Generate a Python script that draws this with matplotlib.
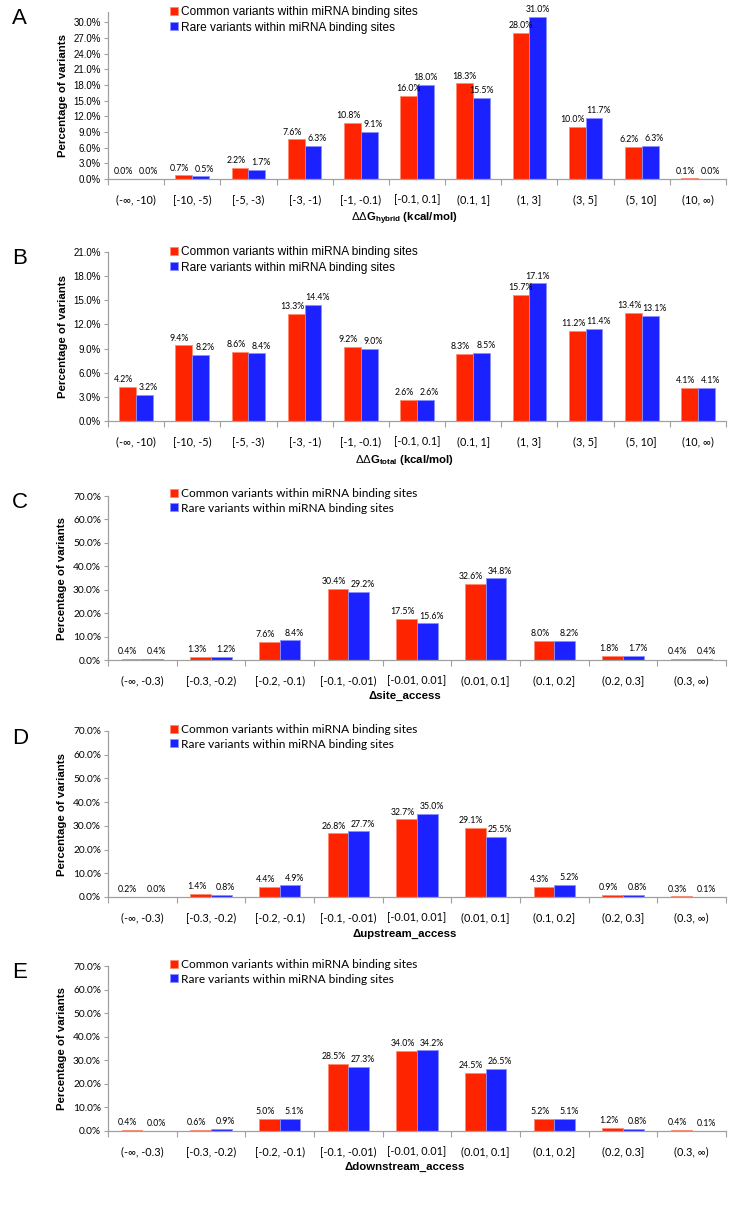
import numpy as np
import matplotlib
matplotlib.use("Agg")
import matplotlib.pyplot as plt

plt.rcParams['font.family'] = ['Liberation Sans', 'DejaVu Sans']
plt.rcParams['mathtext.fontset'] = 'custom'
plt.rcParams['mathtext.rm'] = 'Liberation Sans'
plt.rcParams['mathtext.bf'] = 'Liberation Sans:bold'

# 데이터
dg_bins = ['(-∞, -10)', '[-10, -5)', '[-5, -3)', '[-3, -1)', '[-1, -0.1)', '[-0.1, 0.1]',
           '(0.1, 1]', '(1, 3]', '(3, 5]', '(5, 10]', '(10, ∞)']
acc_bins = ['(-∞, -0.3)', '[-0.3, -0.2)', '[-0.2, -0.1)', '[-0.1, -0.01)', '[-0.01, 0.01]',
            '(0.01, 0.1]', '(0.1, 0.2]', '(0.2, 0.3]', '(0.3, ∞)']

hybrid_common = [0.0, 0.7, 2.2, 7.6, 10.8, 16.0, 18.3, 28.0, 10.0, 6.2, 0.1]
hybrid_rare = [0.0, 0.5, 1.7, 6.3, 9.1, 18.0, 15.5, 31.0, 11.7, 6.3, 0.0]
total_common = [4.2, 9.4, 8.6, 13.3, 9.2, 2.6, 8.3, 15.7, 11.2, 13.4, 4.1]
total_rare = [3.2, 8.2, 8.4, 14.4, 9.0, 2.6, 8.5, 17.1, 11.4, 13.1, 4.1]
site_common = [0.4, 1.3, 7.6, 30.4, 17.5, 32.6, 8.0, 1.8, 0.4]
site_rare = [0.4, 1.2, 8.4, 29.2, 15.6, 34.8, 8.2, 1.7, 0.4]
up_common = [0.2, 1.4, 4.4, 26.8, 32.7, 29.1, 4.3, 0.9, 0.3]
up_rare = [0.0, 0.8, 4.9, 27.7, 35.0, 25.5, 5.2, 0.8, 0.1]
down_common = [0.4, 0.6, 5.0, 28.5, 34.0, 24.5, 5.2, 1.2, 0.4]
down_rare = [0.0, 0.9, 5.1, 27.3, 34.2, 26.5, 5.1, 0.8, 0.1]

RED = '#FF2400'
BLUE = '#1C22FF'
W, H = 746, 1207
CAL = ['Lato', 'DejaVu Sans']

panels = [
    # letter, bins, common, rare, ymax, ystep, xlabel, axes top/bottom px, legend row px, calibri-ish legend
    ('A', dg_bins, hybrid_common, hybrid_rare, 32, 3, r'$\Delta\Delta\mathbf{G}_{\mathbf{hybrid}}$ (kcal/mol)', 12, 179, 10, False),
    ('B', dg_bins, total_common, total_rare, 21, 3, r'$\Delta\Delta\mathbf{G}_{\mathbf{total}}$ (kcal/mol)', 252, 421, 250, False),
    ('C', acc_bins, site_common, site_rare, 70, 10, 'Δsite_access', 496, 660, 492, True),
    ('D', acc_bins, up_common, up_rare, 70, 10, 'Δupstream_access', 731, 897, 728, True),
    ('E', acc_bins, down_common, down_rare, 70, 10, 'Δdownstream_access', 966, 1131, 963, True),
]

fig = plt.figure(figsize=(W / 100, H / 100), dpi=100)
left, right = 108, 726

for letter, bins, common, rare, ymax, ystep, xlab, top, bot, leg_y, cal in panels:
    ax = fig.add_axes([left / W, 1 - bot / H, (right - left) / W, (bot - top) / H])
    x = np.arange(len(bins))
    b1 = ax.bar(x - 0.15, common, 0.3, color=RED, edgecolor='#FF8A70', linewidth=0.6,
                label='Common variants within miRNA binding sites')
    b2 = ax.bar(x + 0.15, rare, 0.3, color=BLUE, edgecolor='#8C90FF', linewidth=0.6,
                label='Rare variants within miRNA binding sites')

    # 값 라벨 (높이가 비슷하면 좌우로 살짝 벌림)
    px_per_unit = (bot - top) / ymax
    for i in range(len(bins)):
        close = abs(common[i] - rare[i]) * px_per_unit < 10
        dx = 3 if close else 0
        for r, v, sgn in [(b1[i], common[i], -1), (b2[i], rare[i], 1)]:
            ax.annotate(f'{v:.1f}%', (r.get_x() + r.get_width() / 2, v),
                        xytext=(sgn * dx, 2), textcoords='offset points',
                        ha='center', va='bottom', fontsize=6.3, family=CAL)

    ax.set_xlim(-0.5, len(bins) - 0.5)
    ax.set_ylim(0, ymax)
    yt = np.arange(0, (70 if ystep == 10 else (30 if ymax > 30 else ymax)) + 0.01, ystep)
    ax.set_yticks(yt)
    ax.set_yticklabels([f'{t:.1f}%' for t in yt], fontsize=7.3 if cal else 7,
                       family=CAL if cal else None)
    ax.set_xticks(x)
    ax.set_xticklabels(bins, fontsize=7.8, family=CAL)
    ax.set_xticks(np.arange(len(bins) + 1) - 0.5, minor=True)
    ax.tick_params(axis='x', which='major', length=0, pad=11)
    ax.tick_params(axis='x', which='minor', length=4, color='#A0A0A0', width=0.8)
    ax.tick_params(axis='y', length=3, color='#A0A0A0', width=0.8, pad=2)
    for s in ['top', 'right']:
        ax.spines[s].set_visible(False)
    for s in ['left', 'bottom']:
        ax.spines[s].set_color('#A0A0A0')
        ax.spines[s].set_linewidth(0.9)

    ax.set_ylabel('Percentage of variants', fontsize=8.2, fontweight='bold', labelpad=4)
    ax.set_xlabel(xlab, fontsize=8.2, fontweight='bold')
    ax.xaxis.set_label_coords(0.48, -0.19)

    leg_fam = CAL if cal else ['Liberation Sans']
    ax.legend(loc='upper left', bbox_to_anchor=(170 / W, 1 - (leg_y - 4) / H),
              bbox_transform=fig.transFigure, frameon=False, borderpad=0, borderaxespad=0,
              handlelength=0.65, handleheight=0.65, handletextpad=0.3, labelspacing=0.3,
              prop={'family': leg_fam, 'size': 8.6})

    fig.text(12 / W, 1 - (top + 7) / H, letter, fontsize=16, ha='left', va='center')

fig.savefig('out.png', dpi=100)
